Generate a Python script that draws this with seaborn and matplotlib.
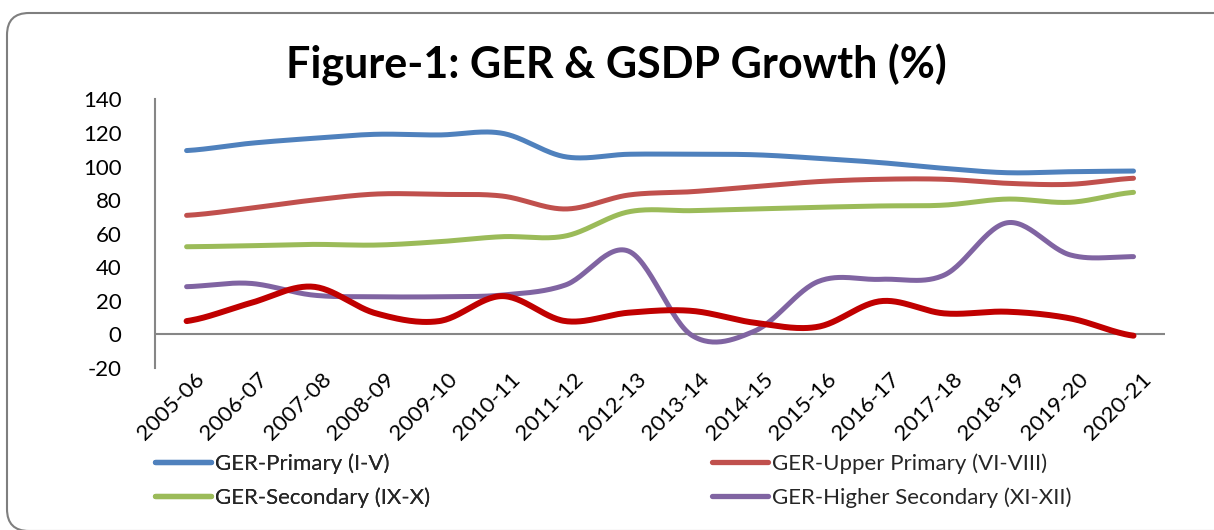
import numpy as np
import pandas as pd
import matplotlib
matplotlib.use("Agg")
import matplotlib.pyplot as plt
import seaborn as sns
from matplotlib.lines import Line2D
from matplotlib.patches import FancyBboxPatch
import matplotlib.transforms as mtransforms

years = ["2005-06", "2006-07", "2007-08", "2008-09", "2009-10", "2010-11", "2011-12",
         "2012-13", "2013-14", "2014-15", "2015-16", "2016-17", "2017-18", "2018-19",
         "2019-20", "2020-21"]
ger_primary = [109.5, 113.8, 116.8, 119.2, 118.8, 119.8, 105.8, 107.3, 107.3, 107.0,
               104.9, 102.3, 98.9, 96.3, 96.9, 97.3]
ger_upper_primary = [70.9, 75.1, 80.0, 83.6, 83.4, 82.4, 74.7, 83.0, 85.0, 88.0,
                     91.0, 92.4, 92.4, 90.0, 89.4, 93.0]
ger_secondary = [52.2, 52.8, 53.6, 53.2, 55.2, 58.2, 58.6, 73.0, 73.7, 74.7,
                 75.7, 76.5, 77.0, 80.6, 78.7, 84.6]
ger_higher_secondary = [28.4, 30.4, 23.4, 22.4, 22.4, 23.4, 29.4, 49.6, -0.5, 2.0,
                        31.4, 32.8, 35.3, 66.5, 47.3, 46.3]
gsdp_growth = [7.9, 18.5, 28.4, 12.5, 7.9, 22.8, 7.9, 12.9, 14.0, 6.9,
               4.5, 19.8, 12.5, 13.5, 9.5, -0.8]

labels = ["GER-Primary (I-V)", "GER-Upper Primary (VI-VIII)",
          "GER-Secondary (IX-X)", "GER-Higher Secondary (XI-XII)", "GSDP Growth"]
colors = ["#4F81BD", "#C0504D", "#9BBB59", "#8064A2", "#C00000"]
widths = [3.6, 3.6, 3.6, 3.6, 4.3]


def smooth(vals, n=30):
    """Catmull-Rom rendering of a series (Excel-style smoothed line)."""
    v = np.asarray(vals, float)
    x = np.arange(len(v), dtype=float)
    m = np.zeros_like(v)
    m[1:-1] = (v[2:] - v[:-2]) / 2.0
    m[0] = (v[1] - v[0]) / 2.0
    m[-1] = (v[-1] - v[-2]) / 2.0
    xs, ys = [], []
    for i in range(len(v) - 1):
        t = np.linspace(0, 1, n, endpoint=(i == len(v) - 2))
        h00 = 2 * t**3 - 3 * t**2 + 1
        h10 = t**3 - 2 * t**2 + t
        h01 = -2 * t**3 + 3 * t**2
        h11 = t**3 - t**2
        ys.append(h00 * v[i] + h10 * m[i] + h01 * v[i + 1] + h11 * m[i + 1])
        xs.append(x[i] + t)
    return np.concatenate(xs), np.concatenate(ys)


sns.set_theme(style="white")
plt.rcParams["font.family"] = ["Lato", "DejaVu Sans"]
plt.rcParams["axes.unicode_minus"] = False
plt.rcParams["savefig.bbox"] = None

fig = plt.figure(figsize=(12.14, 5.30), dpi=100)
ax = fig.add_axes([0.1277, 0.3058, 0.8320, 0.5067])

series = [ger_primary, ger_upper_primary, ger_secondary, ger_higher_secondary, gsdp_growth]
for vals, lab, col, lw in zip(series, labels, colors, widths):
    xs, ys = smooth(vals)
    df = pd.DataFrame({"x": xs, "y": ys})
    sns.lineplot(data=df, x="x", y="y", ax=ax, color=col, linewidth=lw, sort=False,
                 estimator=None, solid_capstyle="round", legend=False)

ax.set_xlim(-0.5, len(years) - 0.5)
ax.set_ylim(-20, 140)
ax.set_yticks(range(-20, 141, 20))
ax.set_xticks(range(len(years)))
ax.set_xlabel("")
ax.set_ylabel("")
ax.axhline(0, color="#868686", lw=1.5, zorder=1)
for s in ["top", "right", "bottom"]:
    ax.spines[s].set_visible(False)
ax.spines["left"].set_color("#868686")
ax.spines["left"].set_linewidth(1.5)
ax.tick_params(axis="y", length=0, pad=24, labelsize=16, labelcolor="black")
ax.tick_params(axis="x", length=0, pad=1, labelsize=16, labelcolor="black")
ax.set_xticklabels(years, rotation=45, ha="right", rotation_mode="anchor")
offset = mtransforms.ScaledTranslation(8 / 100, 0, fig.dpi_scale_trans)
for lbl in ax.get_xticklabels():
    lbl.set_transform(lbl.get_transform() + offset)

fig.text(0.508, 0.877, "Figure-1: GER & GSDP Growth (%)", ha="center", va="center",
         fontsize=31, fontweight="bold", color="black")

handles = [Line2D([0], [0], color=c, lw=3.8) for c in colors[:4]]
leg_kw = dict(loc="upper left", frameon=False, fontsize=16, handlelength=2.5,
              handletextpad=0.2, labelspacing=0.6, borderpad=0, borderaxespad=0)
leg1 = fig.legend(handles[0::2], [labels[0], labels[2]],
                  bbox_to_anchor=(155 / 1214, 1 - 453 / 530), **leg_kw)
fig.add_artist(leg1)
leg2 = fig.legend(handles[1::2], [labels[1], labels[3]],
                  bbox_to_anchor=(712 / 1214, 1 - 453 / 530), **leg_kw)

# rounded chart-area border, in figure pixels (origin bottom-left), clipped to the figure
W, H = 1214.0, 530.0
to_px = mtransforms.Affine2D().scale(1 / W, 1 / H) + fig.transFigure
box = FancyBboxPatch((7, H - 531), 1300, 518,
                     boxstyle="round,pad=0,rounding_size=22",
                     transform=to_px, fill=False,
                     edgecolor="#7f7f7f", linewidth=1.5)
box.set_clip_box(fig.bbox)
box.set_clip_on(True)
fig.add_artist(box)

fig.savefig("out.png", dpi=100, bbox_inches=None)
